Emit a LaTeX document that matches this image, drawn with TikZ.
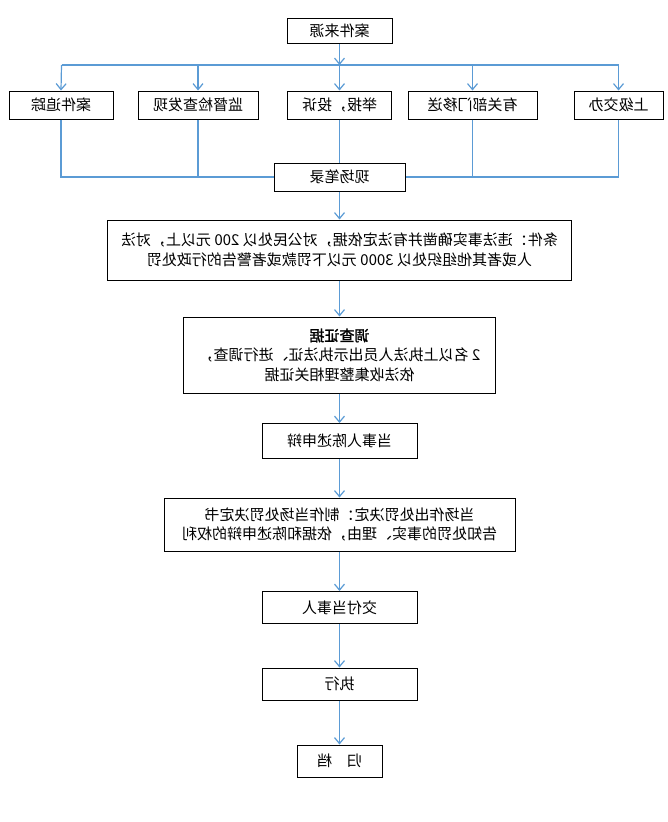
\documentclass[tikz,border=0pt]{standalone}
\usepackage{fontspec}
\newfontfamily\cjk{Noto Sans CJK SC}[AutoFakeBold=1.5]
\usetikzlibrary{arrows.meta, positioning}
\definecolor{linkblue}{RGB}{91,155,213}

\begin{document}
\begin{tikzpicture}[x=1pt,y=-1pt,
    >={Straight Barb[length=6pt,width=10pt]},
    box/.style={draw=black,line width=1pt,fill=white,xscale=-1,align=center,inner sep=2pt,
                font=\cjk\fontsize{15}{19.5}\selectfont},
    link/.style={draw=linkblue,line width=1.2pt}]

  \useasboundingbox (0,0) rectangle (667,822);

  \node[box,minimum width=105,minimum height=25] (src) at (339.5,31) {案件来源};

  \node[box,minimum width=89,minimum height=28]  (q_up)    at (618.5,105) {上级交办};
  \node[box,minimum width=129,minimum height=28] (q_dept)  at (472.5,105) {有关部门移送};
  \node[box,minimum width=104,minimum height=28] (q_rep)   at (339.5,105) {举报，投诉};
  \node[box,minimum width=120,minimum height=28] (q_check) at (198,105)   {监督检查发现};
  \node[box,minimum width=104,minimum height=28] (q_track) at (61,105)    {案件追踪};

  \coordinate (bus)  at (339.5,65);
  \coordinate (busL) at (61.5,65);
  \coordinate (busR) at (618.5,65);

  \node[box,minimum width=131,minimum height=28] (rec)  at (339.5,177) {现场笔录};
  \node[box,minimum width=464,minimum height=60] (cond) at (339.5,250)
       {条件：违法事实确凿并有法定依据，对公民处以 200 元以上，对法\\
        人或者其他组织处以 3000 元以下罚款或者警告的行政处罚};
  \node[box,minimum width=312,minimum height=76] (inv)  at (339.5,355)
       {\textbf{调查证据}\\2 名以上执法人员出示执法证、进行调查，\\依法收集整理相关证据};
  \node[box,minimum width=155,minimum height=35] (plea) at (339.5,441) {当事人陈述申辩};
  \node[box,minimum width=351,minimum height=53] (dec)  at (339.5,524.5)
       {当场作出处罚决定：制作当场处罚决定书\\告知处罚的事实、理由，依据和陈述申辩的权利};
  \node[box,minimum width=155,minimum height=32] (hand) at (339.5,607.5) {交付当事人};
  \node[box,minimum width=155,minimum height=32] (exe)  at (339.5,684)   {执行};
  \node[box,minimum width=85,minimum height=32]  (arch) at (339.5,761)   {归\quad 档};

  \draw[link] (busL) -- (busR);
  \draw[link,->] (src.south) -- (bus);
  \draw[link,->] (bus) -- (q_rep.north);
  \draw[link,->] (busL) -- (q_track.north);
  \draw[link,->] (busL -| q_check) -- (q_check.north);
  \draw[link,->] (busL -| q_dept) -- (q_dept.north);
  \draw[link,->] (busR) -- (q_up.north);

  \draw[link] (q_track.south) |- (rec);
  \draw[link] (q_check.south) |- (rec);
  \draw[link] (q_dept.south) |- (rec);
  \draw[link] (q_up.south) |- (rec);
  \draw[link] (q_rep.south) -- (rec.north);

  \draw[link,->] (rec.south) -- (cond.north);
  \draw[link,->] (cond.south) -- (inv.north);
  \draw[link,->] (inv.south) -- (plea.north);
  \draw[link,->] (plea.south) -- (dec.north);
  \draw[link,->] (dec.south) -- (hand.north);
  \draw[link,->] (hand.south) -- (exe.north);
  \draw[link,->] (exe.south) -- (arch.north);
\end{tikzpicture}
\end{document}
